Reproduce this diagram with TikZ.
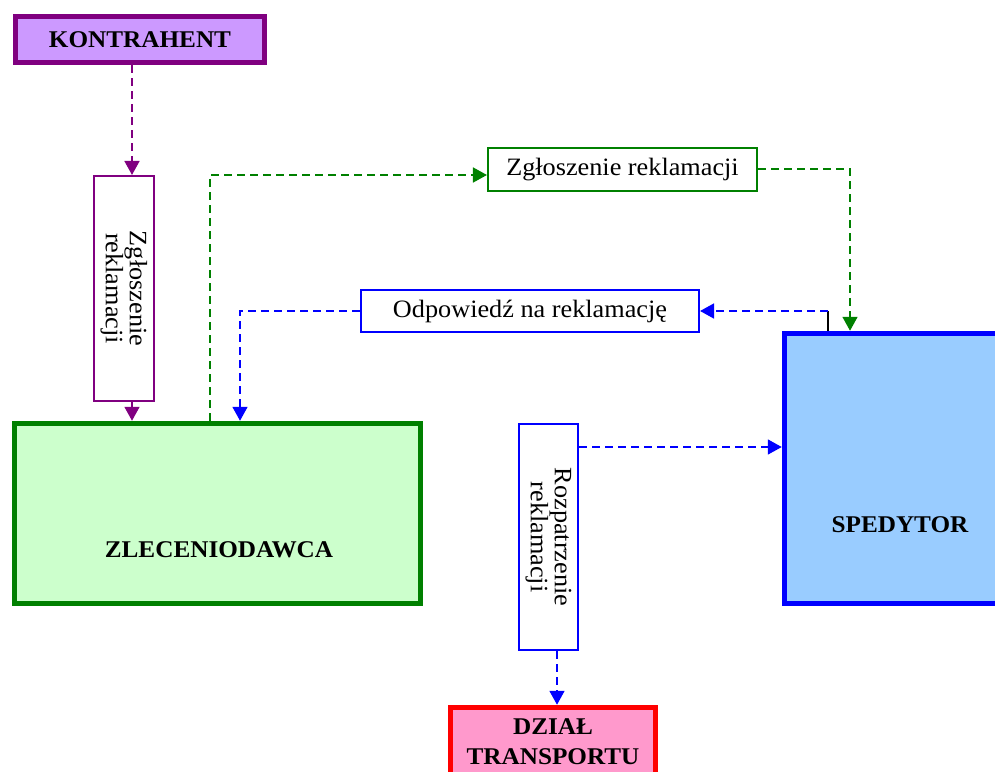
\documentclass[tikz,border=0pt]{standalone}
\usepackage{fontspec}
\setmainfont{Liberation Serif}[FakeStretch=1.05]
\usetikzlibrary{arrows.meta}
\definecolor{purp}{HTML}{800080}
\definecolor{purpfill}{HTML}{CC99FF}
\definecolor{grn}{HTML}{008000}
\definecolor{grnfill}{HTML}{CCFFCC}
\definecolor{blu}{HTML}{0000FF}
\definecolor{blufill}{HTML}{99CCFF}
\definecolor{rd}{HTML}{FF0000}
\definecolor{rdfill}{HTML}{FF99CC}
\tikzset{
  bigbox/.style={draw, line width=5.5pt, inner sep=0pt, font=\fontsize{24}{30}\selectfont\bfseries},
  thinbox/.style={draw, line width=1.6pt, inner sep=0pt, fill=white, font=\fontsize{25}{26}\selectfont},
  lbl/.style={inner sep=0pt, align=center},
  boldlbl/.style={lbl, font=\fontsize{24}{30}\selectfont\bfseries},
  vlbl/.style={lbl, rotate=-90, font=\fontsize{25}{24}\selectfont},
  conn/.style={line width=1.7pt, dash pattern=on 8pt off 5pt, -{Triangle[width=15pt,length=14pt]}},
}
\begin{document}
\begin{tikzpicture}[x=1pt,y=-1pt]
\useasboundingbox (0,0) rectangle (995,771);
\clip (0,0) rectangle (995,771);

% main boxes
\node[bigbox, draw=purp, fill=purpfill, minimum width=249pt, minimum height=46pt] (kon) at (140,39.5) {KONTRAHENT};
\node[bigbox, draw=grn, fill=grnfill, minimum width=406pt, minimum height=180pt] (zl) at (217.5,513.5) {};
\node[boldlbl] (zlt) at (219,550) {ZLECENIODAWCA};
\node[bigbox, draw=blu, fill=blufill, minimum width=233pt, minimum height=270pt] (sp) at (901,468.5) {};
\node[boldlbl] (spt) at (900,525) {SPEDYTOR};
\node[bigbox, draw=rd, fill=rdfill, minimum width=205pt, minimum height=100pt] (dz) at (553,757.5) {};
\node[boldlbl] (dzt) at (553,742) {DZIAŁ\\TRANSPORTU};

% label boxes
\node[thinbox, draw=grn, minimum width=269.5pt, minimum height=43.5pt] (zg) at (622.5,169.5) {Zgłoszenie reklamacji};
\node[thinbox, draw=blu, minimum width=338.5pt, minimum height=42.5pt] (od) at (530,311) {Odpowiedź na reklamację};
\node[thinbox, draw=purp, minimum width=60.5pt, minimum height=225.5pt] (vz) at (124,288.5) {};
\node[vlbl] (vzt) at (124,288.5) {Zgłoszenie\\reklamacji};
\node[thinbox, draw=blu, minimum width=59.5pt, minimum height=226.5pt] (rz) at (548.5,537) {};
\node[vlbl] (rzt) at (548.5,537) {Rozpatrzenie\\reklamacji};

% helper coordinates
\coordinate (p1) at (132,0);
\coordinate (g1) at (210,175);
\coordinate (g2) at (850,169);
\coordinate (b1) at (828,311);
\coordinate (b2) at (240,311);
\coordinate (b3) at (0,447);
\coordinate (b4) at (557,0);

% purple connectors
\draw[conn, purp] (kon.south -| p1) -- (vz.north -| p1);
\draw[conn, purp] (vz.south -| p1) -- (zl.north -| p1);

% green connectors
\draw[conn, grn] (zl.north -| g1) -- (g1) -- (zg.west |- g1);
\draw[conn, grn] (zg.east |- g2) -- (g2) -- (sp.north -| g2);

% blue connectors
\draw[black, line width=1.4pt] (sp.north -| b1) -- (b1);
\draw[conn, blu] (b1) -- (od.east |- b1);
\draw[conn, blu] (od.west |- b2) -- (b2) -- (zl.north -| b2);
\draw[conn, blu] (rz.east |- b3) -- (sp.west |- b3);
\draw[conn, blu] (rz.south -| b4) -- (dz.north -| b4);
\end{tikzpicture}
\end{document}
